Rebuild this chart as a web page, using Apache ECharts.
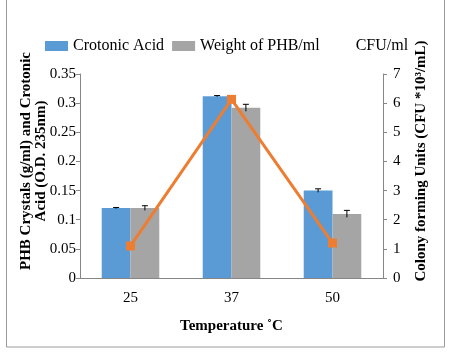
<!DOCTYPE html>
<html style="height: 100%">
<head>
	<meta charset="utf-8">
</head>
<body style="height: 100%; margin: 0">
<div id="container" style="width: 451px; height: 354px"></div>
<script type="text/javascript" src="https://cdn.jsdelivr.net/npm/echarts@6/dist/echarts.min.js"></script>
<script type="text/javascript">
    var temperatures = ['25', '37', '50'];
    var crotonicAcid = [0.12, 0.312, 0.15];
    var crotonicErr = [0.001, 0.001, 0.003];
    var phbWeight = [0.12, 0.292, 0.11];
    var phbErr = [0.004, 0.006, 0.006];
    var cfu = [1.1, 6.13, 1.2];

    var font = "'Liberation Serif', 'Times New Roman', serif";
    var axisGrey = '#868686';

    var dom = document.getElementById("container");
    var myChart = echarts.init(dom);

    function errorSeries(values, errs, side) {
        return {
            type: 'custom',
            yAxisIndex: 0,
            z: 5,
            silent: true,
            data: values.map(function (v, i) { return [i, v, errs[i]]; }),
            renderItem: function (params, api) {
                var band = api.size([1, 0])[0];
                var barW = band * 0.57 / 2;
                var c = api.coord([api.value(0), api.value(1)]);
                var x = c[0] + side * barW / 2;
                var top = api.coord([api.value(0), api.value(1) + api.value(2)])[1];
                var bot = api.coord([api.value(0), api.value(1) - api.value(2)])[1];
                var style = { stroke: '#000', lineWidth: 1 };
                return {
                    type: 'group',
                    children: [
                        { type: 'line', shape: { x1: x, y1: top, x2: x, y2: bot }, style: style },
                        { type: 'line', shape: { x1: x - 3, y1: top, x2: x + 3, y2: top }, style: style }
                    ]
                };
            }
        };
    }

    var legendText = { fontFamily: font, fontSize: 16, color: '#000' };

    var option = {
        backgroundColor: '#fff',
        animation: false,
        textStyle: { fontFamily: font },
        graphic: [{
            type: 'rect',
            shape: { x: 6.5, y: -5, width: 438, height: 352 },
            style: { fill: 'none', stroke: '#9a9a9a', lineWidth: 1 }
        }],
        legend: {
            left: 40,
            top: 33,
            itemWidth: 23,
            itemHeight: 10,
            itemGap: 8,
            icon: 'rect',
            textStyle: legendText,
            data: [
                { name: 'Crotonic Acid', textStyle: legendText },
                { name: 'Weight of PHB/ml', textStyle: legendText },
                { name: 'CFU/ml', textStyle: legendText, itemStyle: { opacity: 0 } }
            ]
        },
        grid: { left: 80, right: 68, top: 74, bottom: 76 },
        xAxis: {
            type: 'category',
            data: temperatures,
            name: 'Temperature \u02daC',
            nameLocation: 'middle',
            nameGap: 41,
            nameMoveOverlap: false,
            nameTextStyle: { fontFamily: font, fontSize: 15, fontWeight: 'bold', color: '#000' },
            axisLine: { lineStyle: { color: axisGrey } },
            axisTick: { length: 5, lineStyle: { color: axisGrey } },
            axisLabel: { fontFamily: font, fontSize: 15, color: '#000', margin: 13 }
        },
        yAxis: [{
            type: 'value',
            min: 0,
            max: 0.35,
            interval: 0.05,
            name: 'PHB Crystals (g/ml) and Crotonic\nAcid (O.D. 235nm)',
            nameLocation: 'middle',
            nameGap: 31,
            nameMoveOverlap: false,
            nameTextStyle: {
                fontFamily: font, fontSize: 15, fontWeight: 'bold', color: '#000',
                lineHeight: 15, padding: [0, 0, 0, 30]
            },
            splitLine: { show: false },
            axisLine: { show: true, lineStyle: { color: axisGrey } },
            axisTick: { show: true, length: 4, lineStyle: { color: axisGrey } },
            axisLabel: { fontFamily: font, fontSize: 15, color: '#000', margin: 4 }
        }, {
            type: 'value',
            min: 0,
            max: 7,
            interval: 1,
            name: 'Colony forming Units (CFU *10\u00b3/mL)',
            nameLocation: 'middle',
            nameGap: 31,
            nameRotate: 90,
            nameMoveOverlap: false,
            nameTextStyle: {
                fontFamily: font, fontSize: 15, fontWeight: 'bold', color: '#000',
                padding: [0, 0, 0, 30]
            },
            splitLine: { show: false },
            axisLine: { show: true, lineStyle: { color: axisGrey } },
            axisTick: { show: true, length: 4, lineStyle: { color: axisGrey } },
            axisLabel: { fontFamily: font, fontSize: 15, color: '#000', margin: 10 }
        }],
        series: [{
            name: 'Crotonic Acid',
            type: 'bar',
            data: crotonicAcid,
            barGap: '0%',
            barCategoryGap: '43%',
            itemStyle: { color: '#5B9BD5' }
        }, {
            name: 'Weight of PHB/ml',
            type: 'bar',
            data: phbWeight,
            itemStyle: { color: '#A5A5A5' }
        },
        errorSeries(crotonicAcid, crotonicErr, -1),
        errorSeries(phbWeight, phbErr, 1),
        {
            name: 'CFU/ml',
            type: 'line',
            yAxisIndex: 1,
            data: cfu,
            z: 10,
            symbol: 'rect',
            symbolSize: 9,
            lineStyle: { color: '#ED7D31', width: 3 },
            itemStyle: { color: '#ED7D31' }
        }]
    };

    myChart.setOption(option, true);
</script>
</body>
</html>
